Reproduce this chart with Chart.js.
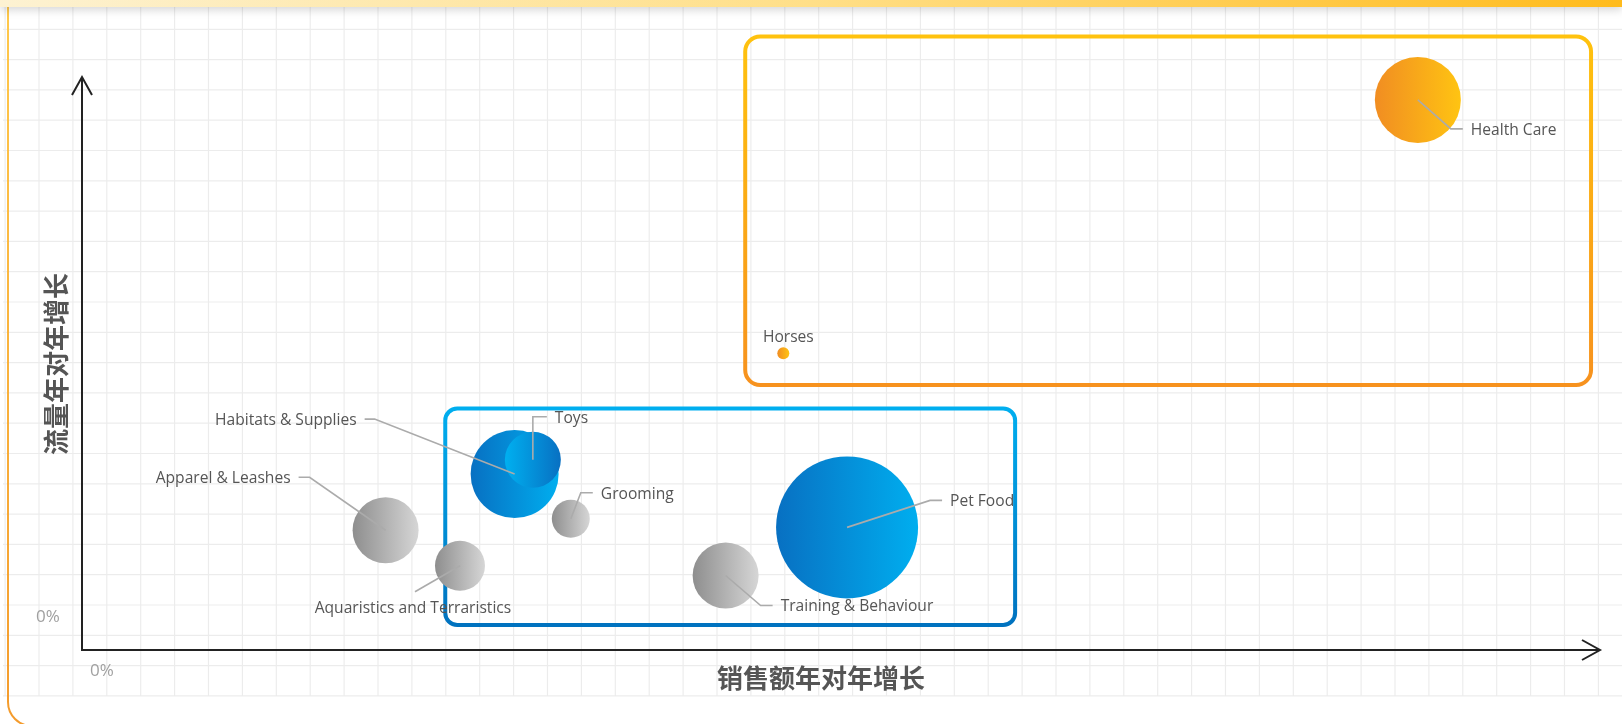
<!DOCTYPE html>
<html><head><meta charset="utf-8">
<script src="https://cdn.jsdelivr.net/npm/chart.js@4.4.1/dist/chart.umd.min.js"></script>
<style>html,body{margin:0;padding:0;background:#fff;overflow:hidden}canvas{display:block}</style>
</head><body>
<canvas id="c" width="1622" height="724"></canvas>
<script>
// ---- data ----
const categories = ['Health Care','Horses','Pet Food','Habitats & Supplies','Toys','Grooming','Apparel & Leashes','Aquaristics and Terraristics','Training & Behaviour'];
const salesGrowth   = [88.0, 46.2, 50.4, 28.5, 29.7, 32.2, 20.0, 24.9, 42.4];
const trafficGrowth = [96.0, 51.8, 21.4, 30.7, 33.2, 22.9, 20.9, 14.7, 13.0];
const bubbleSize    = [43, 6, 71, 44, 28, 19, 33, 25, 33];
const groups        = ['orange','orange','blue','blue','blueRev','gray','gray','gray','gray'];
const tickLabels = ['0%'];
const xTitle = '销售额年对年增长';
const yTitle = '流量年对年增长';

// ---- styles / layout ----
const palette = {
  orange: ['#f18d22', '#ffc412'],
  blue: ['#0870c2', '#00aeef'],
  blueRev: ['#00b0f0', '#0870c2'],
  gray: ['#8e8e8e', '#d6d6d6']
};
// label callouts: elbow offset from centre (ex,ey), horizontal run (h), text alignment
const callouts = [
  {ex:33, ey:29, h:12, align:'left'},
  {ex:5, ey:-17, h:0, align:'top'},
  {ex:83, ey:-27, h:12, align:'left'},
  {ex:-140, ey:-55, h:-10, align:'right'},
  {ex:0, ey:-43, h:14, align:'left'},
  {ex:10, ey:-26, h:12, align:'left'},
  {ex:-76, ey:-53, h:-11, align:'right'},
  {ex:-45, ey:26, h:0, align:'below'},
  {ex:35, ey:30, h:12, align:'left'}
];
const zones = [
  {x0:23.93, x1:61.47, y0:4.36, y1:42.15, top:'#00aeef', bottom:'#0072bf', radius:12},
  {x0:43.69, x1:99.41, y0:46.25, y1:107.07, top:'#ffc20e', bottom:'#f7921e', radius:15}
];
const LABEL_FONT = '15.6px "Open Sans", "Noto Sans", sans-serif';
const TEXT_DY = 1.5;

const decor = {
  id: 'decor',
  beforeDraw(chart) {
    const c = chart.ctx; const W = chart.width, H = chart.height;
    c.save();
    c.fillStyle = '#fff'; c.fillRect(0, 0, W, H);
    // grid
    c.strokeStyle = 'rgba(0,0,0,0.075)'; c.lineWidth = 1.2;
    c.beginPath();
    for (let x = 5.1; x < W; x += 33.9) { c.moveTo(x, 0); c.lineTo(x, 696.5); }
    for (let y = 29.3; y < 697; y += 30.3) { c.moveTo(3, y); c.lineTo(W, y); }
    c.stroke();
    // card border
    const g = c.createLinearGradient(0, 0, 0, H);
    g.addColorStop(0, '#ffc94c'); g.addColorStop(1, '#f49b2c');
    c.strokeStyle = g; c.lineWidth = 2;
    c.beginPath();
    c.roundRect(8, -40, 1635, 766, 24);
    c.stroke();
    // top band
    c.shadowColor = 'rgba(0,0,0,0.16)'; c.shadowBlur = 8; c.shadowOffsetY = 3;
    const tg = c.createLinearGradient(0, 0, W, 0);
    tg.addColorStop(0, '#fdf2d2'); tg.addColorStop(0.5, '#ffdf88'); tg.addColorStop(1, '#ffbb1c');
    c.fillStyle = tg; c.fillRect(0, -5, W, 12);
    c.restore();

    // zones
    const xs = chart.scales.x, ys = chart.scales.y;
    zones.forEach(z => {
      const L = xs.getPixelForValue(z.x0), R = xs.getPixelForValue(z.x1);
      const T = ys.getPixelForValue(z.y1), B = ys.getPixelForValue(z.y0);
      const zg = c.createLinearGradient(0, T, 0, B);
      zg.addColorStop(0, z.top); zg.addColorStop(1, z.bottom);
      c.save(); c.strokeStyle = zg; c.lineWidth = 4;
      c.beginPath(); c.roundRect(L, T, R - L, B - T, z.radius); c.stroke(); c.restore();
    });

    // axes with arrows
    const ox = xs.getPixelForValue(0), oy = ys.getPixelForValue(0);
    const xe = chart.chartArea.right, yt = chart.chartArea.top;
    c.save(); c.strokeStyle = '#222'; c.lineWidth = 2; c.lineJoin = 'miter';
    c.beginPath(); c.moveTo(ox, yt); c.lineTo(ox, oy); c.lineTo(xe, oy); c.stroke();
    c.beginPath(); c.moveTo(ox - 10, yt + 18); c.lineTo(ox, yt); c.lineTo(ox + 10, yt + 18); c.stroke();
    c.beginPath(); c.moveTo(xe - 18, oy - 10); c.lineTo(xe, oy); c.lineTo(xe - 18, oy + 10); c.stroke();
    // 0% labels
    c.fillStyle = '#a0a0a0'; c.font = '17px "Open Sans", sans-serif';
    c.textBaseline = 'middle'; c.textAlign = 'center';
    c.fillText(tickLabels[0], ox + 20, oy + 21);
    c.fillText(tickLabels[0], ox - 34, oy - 33);
    // titles
    c.fillStyle = '#555'; c.font = 'bold 26px "Noto Sans CJK SC", sans-serif';
    c.fillText(xTitle, 821, oy + 28);
    c.translate(56, 364); c.rotate(-Math.PI / 2);
    c.fillText(yTitle, 0, 0);
    c.restore();
  },
  afterDatasetsDraw(chart) {
    const c = chart.ctx; const xs = chart.scales.x, ys = chart.scales.y;
    c.save();
    c.strokeStyle = '#ababab'; c.lineWidth = 1.6; c.fillStyle = '#555';
    c.font = LABEL_FONT; c.textBaseline = 'middle';
    categories.forEach((name, i) => {
      const cx = xs.getPixelForValue(salesGrowth[i]), cy = ys.getPixelForValue(trafficGrowth[i]);
      const o = callouts[i];
      const ex = cx + o.ex, ey = cy + o.ey;
      if (o.align === 'top') {
        c.textAlign = 'center'; c.fillText(name, ex, ey + TEXT_DY); return;
      }
      c.beginPath(); c.moveTo(cx, cy); c.lineTo(ex, ey); c.lineTo(ex + o.h, ey); c.stroke();
      if (o.align === 'left') { c.textAlign = 'left'; c.fillText(name, ex + o.h + 8, ey + TEXT_DY); }
      else if (o.align === 'right') { c.textAlign = 'right'; c.fillText(name, ex + o.h - 8, ey + TEXT_DY); }
      else { c.textAlign = 'center'; c.fillText(name, ex - 2, ey + 15 + TEXT_DY); }
    });
    c.restore();
  }
};

new Chart(document.getElementById('c'), {
  type: 'bubble',
  data: {
    datasets: [{
      data: categories.map((n, i) => ({x: salesGrowth[i], y: trafficGrowth[i], r: bubbleSize[i]})),
      backgroundColor: (ctx) => {
        const chart = ctx.chart; if (!chart.chartArea || ctx.dataIndex === undefined) return '#999';
        const i = ctx.dataIndex;
        const cx = chart.scales.x.getPixelForValue(salesGrowth[i]); const r = bubbleSize[i];
        const g = chart.ctx.createLinearGradient(cx - r, 0, cx + r, 0);
        const p = palette[groups[i]];
        g.addColorStop(0, p[0]); g.addColorStop(1, p[1]);
        return g;
      },
      borderWidth: 0,
      hoverBorderWidth: 0,
      clip: false
    }]
  },
  options: {
    responsive: false,
    devicePixelRatio: 1,
    animation: false,
    layout: {autoPadding: false, padding: {left: 82, right: 22, top: 77, bottom: 74}},
    scales: {
      x: {type: 'linear', min: 0, max: 100, display: false},
      y: {type: 'linear', min: 0, max: 100, display: false}
    },
    plugins: {legend: {display: false}, tooltip: {enabled: false}}
  },
  plugins: [decor]
});
</script>
</body></html>
